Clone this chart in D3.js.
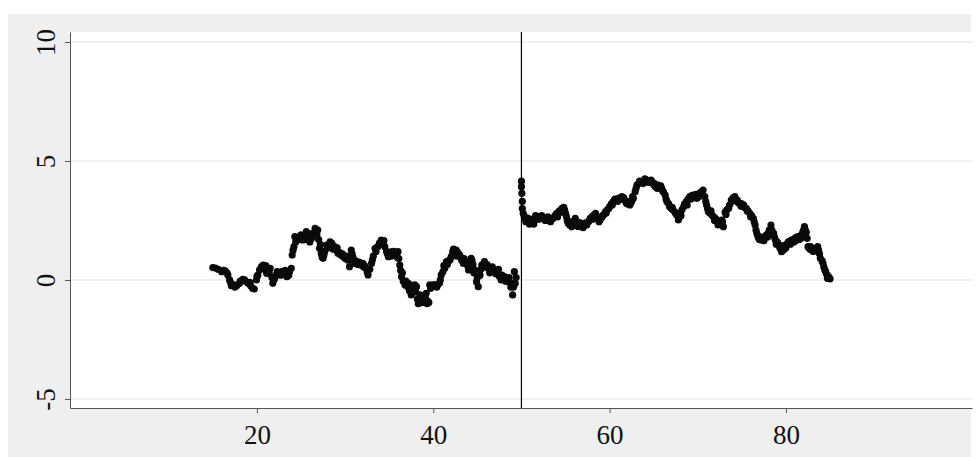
<!DOCTYPE html>
<html>
<head>
<meta charset="utf-8">
<script src="https://cdn.jsdelivr.net/npm/d3@7"></script>
<style>
  html, body { margin: 0; padding: 0; background: #fff; }
  svg { display: block; }
</style>
</head>
<body>
<svg id="chart"></svg>
<script>
// running variable / outcome, left of the cutoff
const leftX = [15.0, 15.6, 16.2, 16.4, 16.7, 16.9, 17.1, 17.4, 17.7, 18.1, 18.4, 18.7, 19.0, 19.3, 19.7, 19.95,
  20.1, 20.3, 20.5, 20.7, 20.9, 21.1, 21.3, 21.5, 21.7, 21.8, 22.0, 22.2, 22.5, 22.8, 23.1, 23.4, 23.7, 23.9,
  24.0, 24.2, 24.3, 24.6, 24.9, 25.2, 25.4, 25.6, 25.8, 26.0, 26.3, 26.6, 26.9, 27.0, 27.1, 27.3, 27.5, 27.7,
  27.9, 28.2, 28.5, 28.8, 29.0, 29.2, 29.5, 29.8, 30.0, 30.3, 30.5, 30.7, 30.9, 31.1, 31.4, 31.7, 32.0, 32.2,
  32.4, 32.6, 32.8, 33.0, 33.2, 33.4, 33.7, 33.9, 34.1, 34.3, 34.5, 34.7, 34.9, 35.1, 35.3, 35.6, 35.8, 36.0,
  36.1, 36.2, 36.3, 36.4, 36.6, 36.8, 37.1, 37.3, 37.5, 37.7, 37.9, 38.1, 38.2, 38.3, 38.5, 38.7, 39.0, 39.2,
  39.4, 39.5, 39.6, 39.9, 40.2, 40.5, 40.7, 40.9, 41.1, 41.3, 41.5, 41.7, 41.9, 42.1, 42.2, 42.4, 42.6, 42.8,
  43.0, 43.2, 43.4, 43.6, 43.8, 44.0, 44.2, 44.3, 44.5, 44.7, 44.9, 45.1, 45.3, 45.5, 45.8, 46.0, 46.2, 46.5,
  46.8, 47.0, 47.3, 47.5, 47.7, 47.9, 48.1, 48.3, 48.5, 48.7, 48.9, 49.0, 49.1, 49.2, 49.4];
const leftY = [0.52, 0.45, 0.40, 0.38, 0.21, 0.0, -0.24, -0.2, -0.24, -0.05, 0.03, -0.05, -0.14, -0.25, -0.38, 0.0,
  0.2, 0.42, 0.55, 0.63, 0.45, 0.28, 0.4, 0.49, 0.1, -0.14, 0.05, 0.21, 0.3, 0.35, 0.25, 0.14, 0.35, 0.49,
  1.05, 1.4, 1.82, 1.78, 1.75, 1.68, 1.85, 2.03, 1.8, 1.6, 1.9, 2.17, 2.1, 1.7, 1.33, 1.1, 0.91, 1.2,
  1.47, 1.5, 1.54, 1.4, 1.25, 1.12, 1.05, 0.98, 0.9, 0.84, 0.56, 1.26, 0.95, 0.7, 0.65, 0.63, 0.7, 0.6,
  0.49, 0.21, 0.45, 0.7, 1.0, 1.33, 1.4, 1.55, 1.68, 1.55, 1.4, 1.2, 0.98, 1.1, 1.19, 1.05, 1.1, 1.19,
  0.9, 0.63, 0.4, 0.14, -0.05, -0.21, -0.28, -0.45, -0.63, -0.4, -0.21, -0.28, -0.8, -1.0, -0.63, -0.75, -0.91, -0.56,
  -0.9, -0.95, -0.21, -0.25, -0.21, -0.2, -0.14, 0.21, 0.35, 0.49, 0.77, 0.8, 0.84, 1.0, 1.19, 1.1, 1.26, 1.15,
  1.05, 0.85, 0.7, 0.75, 0.77, 0.42, 0.7, 0.91, 0.65, 0.42, -0.07, -0.28, 0.2, 0.63, 0.77, 0.6, 0.49, 0.45,
  0.42, 0.4, 0.35, 0.15, 0.0, 0.1, 0.14, 0.05, -0.07, -0.1, -0.14, -0.63, -0.3, 0.35, 0.1];

// extra observations giving the band its spread, left side
const leftSpreadX = [15.3, 16.0, 16.6, 17.0, 17.5, 18.0, 18.6, 19.2, 19.5, 20.0, 20.6, 21.0, 21.4, 21.9, 22.3,
  22.7, 23.2, 23.6, 24.1, 24.4, 24.7, 25.0, 25.5, 25.9, 26.2, 26.5, 26.8, 27.2, 27.4, 27.6, 28.0, 28.3, 28.6,
  29.1, 29.4, 29.7, 30.2, 30.6, 30.8, 31.2, 31.6, 32.1, 32.5, 33.1, 33.5, 34.0, 34.4, 34.8, 35.2, 35.5, 35.9,
  36.5, 36.9, 37.2, 37.6, 38.0, 38.4, 38.8, 39.1, 39.3, 39.7, 40.0, 40.4, 40.8, 41.2, 41.6, 42.0, 42.3, 42.7,
  43.1, 43.5, 43.9, 44.1, 44.4, 44.6, 45.0, 45.4, 45.7, 46.1, 46.4, 46.7, 47.1, 47.4, 47.8, 48.2, 48.6, 48.8, 49.3];
const leftSpreadY = [0.5, 0.35, 0.3, -0.1, -0.3, -0.15, 0.0, -0.1, -0.35, 0.15, 0.5, 0.6, 0.3, 0.0, 0.35,
  0.2, 0.4, 0.2, 1.25, 1.6, 1.7, 1.9, 1.7, 1.95, 1.75, 2.0, 1.9, 1.5, 0.95, 1.05, 1.35, 1.6, 1.3,
  1.35, 1.15, 1.1, 1.0, 0.85, 1.1, 0.8, 0.75, 0.55, 0.35, 0.85, 1.2, 1.5, 1.65, 1.1, 1.0, 1.2, 0.95,
  0.3, -0.05, -0.15, -0.55, -0.5, -0.9, -0.95, -0.75, -1.0, -0.35, -0.2, -0.3, 0.0, 0.6, 0.65, 0.95, 1.3, 1.0,
  0.95, 0.9, 0.6, 0.55, 0.8, 0.3, 0.1, 0.45, 0.55, 0.65, 0.3, 0.55, 0.25, 0.45, 0.2, -0.05, 0.1, -0.3, -0.15];

// right of the cutoff
const rightX = [50.0, 50.0, 50.05, 50.1, 50.1, 50.2, 50.4, 50.6, 50.8, 51.0, 51.2, 51.5, 51.7, 51.9, 52.2, 52.5,
  52.8, 53.1, 53.4, 53.6, 54.0, 54.3, 54.6, 54.9, 55.1, 55.3, 55.5, 55.7, 55.9, 56.1, 56.3, 56.5, 56.8, 57.1,
  57.4, 57.6, 57.8, 58.0, 58.2, 58.5, 58.7, 58.9, 59.1, 59.3, 59.5, 59.7, 60.0, 60.2, 60.4, 60.7, 61.0, 61.2,
  61.4, 61.7, 61.9, 62.1, 62.3, 62.5, 62.7, 62.9, 63.1, 63.3, 63.6, 63.9, 64.2, 64.5, 64.8, 65.0, 65.2, 65.5,
  65.7, 65.9, 66.1, 66.3, 66.5, 66.8, 67.0, 67.2, 67.4, 67.6, 67.8, 68.0, 68.2, 68.4, 68.7, 68.9, 69.1, 69.3,
  69.5, 69.7, 69.9, 70.2, 70.4, 70.6, 70.8, 71.0, 71.2, 71.4, 71.6, 71.8, 72.0, 72.3, 72.5, 72.7, 72.9, 73.1,
  73.3, 73.5, 73.8, 74.0, 74.2, 74.5, 74.8, 75.0, 75.2, 75.5, 75.7, 75.9, 76.1, 76.3, 76.5, 76.7, 76.9, 77.0,
  77.2, 77.4, 77.6, 77.8, 78.0, 78.3, 78.6, 78.8, 79.0, 79.1, 79.3, 79.5, 79.7, 79.9, 80.1, 80.3, 80.6, 80.8,
  81.0, 81.2, 81.4, 81.6, 81.8, 82.0, 82.1, 82.3, 82.4, 82.5, 82.7, 82.9, 83.2, 83.5, 83.7, 83.9, 84.2, 84.3,
  84.4, 84.6, 84.7, 85.0];
const rightY = [4.15, 3.92, 3.64, 3.3, 3.0, 2.8, 2.59, 2.5, 2.45, 2.4, 2.38, 2.52, 2.6, 2.66, 2.6, 2.59,
  2.55, 2.52, 2.55, 2.59, 2.8, 2.9, 3.01, 2.94, 2.66, 2.38, 2.3, 2.24, 2.4, 2.59, 2.45, 2.31, 2.24, 2.28,
  2.31, 2.45, 2.59, 2.65, 2.73, 2.66, 2.6, 2.52, 2.62, 2.73, 2.85, 2.94, 3.08, 3.2, 3.29, 3.35, 3.43, 3.45,
  3.5, 3.35, 3.22, 3.18, 3.15, 3.3, 3.43, 3.71, 3.99, 4.05, 4.13, 4.15, 4.2, 4.15, 4.13, 4.0, 3.92, 3.99,
  3.9, 3.85, 3.7, 3.57, 3.29, 3.08, 3.0, 2.94, 2.85, 2.73, 2.52, 2.8, 2.95, 3.08, 3.29, 3.4, 3.5, 3.55,
  3.57, 3.5, 3.43, 3.64, 3.7, 3.78, 3.5, 3.15, 2.87, 2.8, 2.73, 2.65, 2.59, 2.31, 2.4, 2.52, 2.24, 2.85,
  2.95, 3.01, 3.36, 3.45, 3.5, 3.35, 3.22, 3.2, 3.15, 3.01, 2.9, 2.8, 2.7, 2.59, 2.31, 1.96, 1.75, 1.7,
  1.68, 1.75, 1.82, 1.9, 1.96, 2.31, 1.96, 1.68, 1.6, 1.54, 1.35, 1.19, 1.25, 1.33, 1.5, 1.61, 1.68, 1.7,
  1.75, 1.8, 1.82, 1.85, 1.89, 2.1, 2.24, 2.0, 1.75, 1.4, 1.3, 1.26, 1.3, 1.33, 1.26, 0.91, 0.7, 0.55,
  0.42, 0.25, 0.07, 0.05];

// extra observations giving the band its spread, right side
const rightSpreadX = [50.3, 50.5, 50.7, 50.9, 51.1, 51.4, 51.6, 52.0, 52.3, 52.7, 53.0, 53.3, 53.8, 54.1, 54.5,
  54.8, 55.0, 55.2, 55.4, 55.8, 56.0, 56.4, 56.7, 57.0, 57.3, 57.7, 58.1, 58.4, 58.8, 59.2, 59.6, 59.9, 60.3,
  60.6, 60.9, 61.3, 61.6, 62.0, 62.4, 62.6, 63.0, 63.4, 63.8, 64.0, 64.4, 64.7, 65.1, 65.4, 65.8, 66.0, 66.4,
  66.7, 67.1, 67.5, 67.9, 68.1, 68.5, 68.8, 69.2, 69.6, 69.8, 70.1, 70.5, 70.9, 71.1, 71.5, 71.9, 72.2, 72.6,
  72.8, 73.2, 73.6, 73.9, 74.3, 74.6, 74.9, 75.3, 75.6, 76.0, 76.4, 76.6, 76.8, 77.1, 77.5, 77.9, 78.1, 78.4,
  78.7, 78.9, 79.2, 79.4, 79.8, 80.0, 80.2, 80.5, 80.9, 81.1, 81.5, 81.7, 81.9, 82.2, 82.6, 82.8, 83.1, 83.4,
  83.6, 83.8, 84.1, 84.5, 84.8, 84.9];
const rightSpreadY = [2.7, 2.45, 2.6, 2.35, 2.55, 2.35, 2.7, 2.55, 2.7, 2.5, 2.65, 2.45, 2.7, 2.65, 2.85,
  3.05, 2.8, 2.5, 2.45, 2.35, 2.5, 2.25, 2.4, 2.2, 2.4, 2.5, 2.55, 2.8, 2.45, 2.7, 2.8, 3.0, 3.15,
  3.4, 3.3, 3.4, 3.45, 3.3, 3.25, 3.5, 3.85, 4.15, 4.05, 4.25, 4.1, 4.2, 4.05, 3.85, 3.95, 3.75, 3.4,
  3.2, 3.05, 2.8, 2.65, 2.7, 3.2, 3.15, 3.4, 3.45, 3.6, 3.5, 3.65, 3.3, 3.0, 2.9, 2.5, 2.45, 2.35,
  2.45, 2.75, 3.15, 3.3, 3.4, 3.25, 3.1, 3.05, 2.9, 2.65, 2.45, 2.1, 1.85, 1.8, 1.65, 1.8, 2.1, 2.1,
  1.8, 1.5, 1.45, 1.3, 1.45, 1.35, 1.55, 1.5, 1.6, 1.65, 1.7, 1.75, 2.0, 2.1, 1.35, 1.4, 1.2, 1.25,
  1.4, 1.1, 0.8, 0.35, 0.15, 0.1];

const cutoff = 50;
const xTicks = [20, 40, 60, 80];
const yTicks = [-5, 0, 5, 10];

const W = 978, H = 457;
const svg = d3.select('#chart').attr('width', W).attr('height', H);

// outer graph region (Stata-style light gray)
svg.append('rect')
  .attr('x', 8).attr('y', 14)
  .attr('width', 963).attr('height', H - 14)
  .attr('fill', '#efefef');

const margin = { left: 70, top: 32 };
const innerW = 902, innerH = 376;

const chart = svg.append('g')
  .attr('transform', `translate(${margin.left},${margin.top})`);

chart.append('rect')
  .attr('width', innerW).attr('height', innerH)
  .attr('fill', '#ffffff');

const x = d3.scaleLinear().domain([-1.2, 101.1]).range([0, innerW]);
const y = d3.scaleLinear().domain([-5.38, 10.42]).range([innerH, 0]);

// faint horizontal grid
chart.append('g')
  .selectAll('line')
  .data(yTicks)
  .join('line')
    .attr('x1', 0).attr('x2', innerW)
    .attr('y1', d => y(d)).attr('y2', d => y(d))
    .attr('stroke', '#ececec')
    .attr('stroke-width', 1.5);

// cutoff line
chart.append('line')
  .attr('x1', x(cutoff)).attr('x2', x(cutoff))
  .attr('y1', 0).attr('y2', innerH)
  .attr('stroke', '#000')
  .attr('stroke-width', 1.2);

// points
const toPts = (xs, ys) => xs.map((d, i) => ({ x: d, y: ys[i] }));
const pts = toPts(leftX, leftY)
  .concat(toPts(leftSpreadX, leftSpreadY))
  .concat(toPts(rightX, rightY))
  .concat(toPts(rightSpreadX, rightSpreadY));

chart.append('g')
  .selectAll('circle')
  .data(pts)
  .join('circle')
    .attr('cx', d => x(d.x))
    .attr('cy', d => y(d.y))
    .attr('r', 3.6)
    .attr('fill', '#0a0a0a');

// axes
const font = '"Liberation Serif", "Times New Roman", serif';
const fmt = d => String(d); // plain hyphen for negatives, as in the original

const yAxis = chart.append('g')
  .call(d3.axisLeft(y).tickValues(yTicks).tickSize(5).tickSizeOuter(0).tickFormat(fmt));
yAxis.select('.domain').attr('stroke', '#555');
yAxis.selectAll('.tick line').attr('stroke', '#555');
yAxis.selectAll('.tick text')
  .attr('x', 0).attr('dy', 0)
  .attr('transform', 'translate(-15,0) rotate(-90)')
  .attr('text-anchor', 'middle')
  .style('font-family', font)
  .style('font-size', '27px')
  .attr('fill', '#111');

const xAxis = chart.append('g')
  .attr('transform', `translate(0,${innerH})`)
  .call(d3.axisBottom(x).tickValues(xTicks).tickSize(5).tickSizeOuter(0).tickFormat(fmt));
xAxis.select('.domain').attr('stroke', '#555');
xAxis.selectAll('.tick line').attr('stroke', '#555');
xAxis.selectAll('.tick text')
  .attr('y', 36).attr('dy', 0)
  .style('font-family', font)
  .style('font-size', '27px')
  .attr('fill', '#111');
</script>
</body>
</html>
